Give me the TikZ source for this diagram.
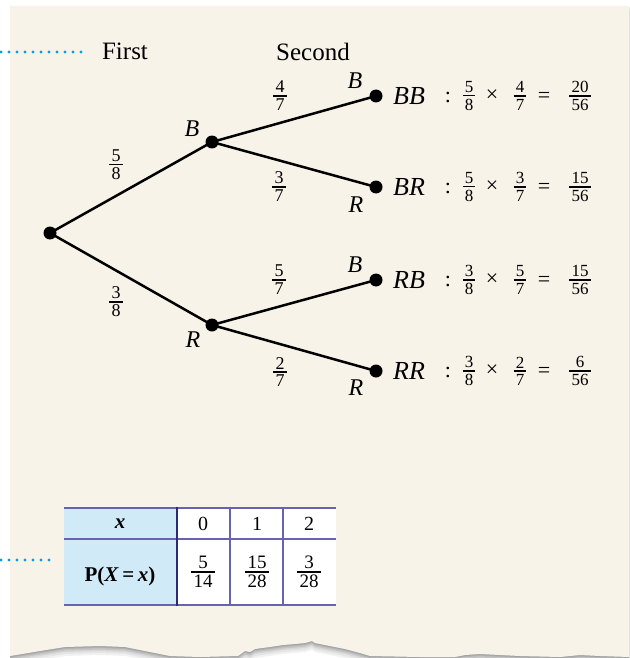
\documentclass[tikz,border=0pt]{standalone}
\usepackage{fontspec}
\setmainfont{Liberation Serif}
\definecolor{cream}{RGB}{247,243,232}
\definecolor{dotblue}{RGB}{0,160,227}
\definecolor{tline}{RGB}{105,98,175}
\definecolor{tthick}{RGB}{45,42,115}
\definecolor{tblue}{RGB}{208,234,248}
\newcommand\fr[3][17]{{\fontsize{#1}{#1}\selectfont
  \setbox0=\hbox{#2}\setbox2=\hbox{#3}%
  \dimen0=\wd0 \ifdim\wd2>\dimen0 \dimen0=\wd2 \fi
  \advance\dimen0 by .25em
  \vbox{\offinterlineskip\halign{\hfil##\hfil\cr\box0\cr\noalign{\kern2pt}\vrule width\dimen0 height1.6pt depth0pt\cr\noalign{\kern2.5pt}\box2\cr}}}}
\begin{document}
\begin{tikzpicture}[x=1pt,y=-1pt,
  tdot/.style={circle,fill=black,inner sep=0pt,minimum size=13pt},
  branch/.style={line width=2.5pt},
  lbl/.style={font=\fontsize{24}{24}\selectfont\itshape,inner sep=0pt},
  head/.style={font=\fontsize{25}{25}\selectfont,inner sep=0pt},
  leaf/.style={font=\fontsize{26}{26}\selectfont\itshape,inner sep=0pt},
  txt/.style={font=\fontsize{22}{22}\selectfont,inner sep=0pt},
  pr/.style={inner sep=0pt},
  ttxt/.style={font=\fontsize{20}{20}\selectfont,inner sep=0pt},
  dotline/.style={dotblue,line width=3.4pt,line cap=round,dash pattern=on 0pt off 8pt},
]
\useasboundingbox (0,0) rectangle (629,658);
\fill[white] (0,0) rectangle (629,658);
% shadow of torn edge
\foreach \s/\c in {9/5,7/10,5/16,3.5/23,2/30,1/36}{
\fill[black!\c,yshift=-\s pt] (10,6) -- (629,6) -- (629,657) -- (600,656) -- (580,655) -- (560,657) -- (520,656) -- (500,655) -- (480,654) -- (465,655) -- (455,657) -- (420,657) -- (370,656) -- (360,653) -- (345,649) -- (330,646) -- (315,643) -- (312,641) -- (305,643) -- (295,644) -- (283,645) -- (270,647) -- (262,648) -- (255,649) -- (250,652) -- (245,651) -- (238,656) -- (200,657) -- (170,656) -- (150,652) -- (125,647) -- (100,646) -- (65,647) -- (40,651) -- (10,656) -- cycle;
}
\fill[cream] (10,6) -- (629,6) -- (629,657) -- (600,656) -- (580,655) -- (560,657) -- (520,656) -- (500,655) -- (480,654) -- (465,655) -- (455,657) -- (420,657) -- (370,656) -- (360,653) -- (345,649) -- (330,646) -- (315,643) -- (312,641) -- (305,643) -- (295,644) -- (283,645) -- (270,647) -- (262,648) -- (255,649) -- (250,652) -- (245,651) -- (238,656) -- (200,657) -- (170,656) -- (150,652) -- (125,647) -- (100,646) -- (65,647) -- (40,651) -- (10,656) -- cycle;

% dotted leaders
\coordinate (d1s) at (1,52); \coordinate (d1e) at (85,52);
\coordinate (d2s) at (1,560); \coordinate (d2e) at (51,560);
\draw[dotline] (d1s) -- (d1e);
\draw[dotline] (d2s) -- (d2e);

% headings
\node[head] (first) at (125,51.5) {First};
\node[head] (second) at (313,51.5) {Second};

% tree
\node[tdot] (root) at (50,233) {};
\node[tdot] (b1) at (212,142) {};
\node[tdot] (r1) at (212,325) {};
\node[tdot] (bb) at (376,96) {};
\node[tdot] (br) at (376,187) {};
\node[tdot] (rb) at (376,280) {};
\node[tdot] (rr) at (376,371) {};
\draw[branch] (root.center) -- (b1.center);
\draw[branch] (root.center) -- (r1.center);
\draw[branch] (b1.center) -- (bb.center);
\draw[branch] (b1.center) -- (br.center);
\draw[branch] (r1.center) -- (rb.center);
\draw[branch] (r1.center) -- (rr.center);

\node[lbl] (lb1) at (192,129) {B};
\node[lbl] (lr1) at (193,340) {R};
\node[lbl] (lbb) at (355,81) {B};
\node[lbl] (lbr) at (356,205) {R};
\node[lbl] (lrb) at (355,265) {B};
\node[lbl] (lrr) at (356,388) {R};

\node[pr] (p58) at (116,165) {\fr[18]{5}{8}};
\node[pr] (p38) at (116,302) {\fr[18]{3}{8}};
\node[pr] (p47) at (280,96) {\fr[18]{4}{7}};
\node[pr] (p37) at (279,187) {\fr[18]{3}{7}};
\node[pr] (p57) at (279,280) {\fr[18]{5}{7}};
\node[pr] (p27) at (280,372) {\fr[18]{2}{7}};

% outcome rows
\node[leaf] (tbb) at (409,96) {BB};
\node[txt] (cbb) at (448,97) {:};
\node[pr] (f1bb) at (469,96) {\fr{5}{8}};
\node[txt] (xbb) at (492,96) {×};
\node[pr] (f2bb) at (520,96) {\fr{4}{7}};
\node[txt] (ebb) at (544,97) {=};
\node[pr] (rbb) at (580,96) {\fr{20}{56}};

\node[leaf] (tbr) at (409,187) {BR};
\node[txt] (cbr) at (448,188) {:};
\node[pr] (f1br) at (469,187) {\fr{5}{8}};
\node[txt] (xbr) at (492,187) {×};
\node[pr] (f2br) at (520,187) {\fr{3}{7}};
\node[txt] (ebr) at (544,188) {=};
\node[pr] (rbr) at (580,187) {\fr{15}{56}};

\node[leaf] (trb) at (409,280) {RB};
\node[txt] (crb) at (448,281) {:};
\node[pr] (f1rb) at (469,280) {\fr{3}{8}};
\node[txt] (xrb) at (492,280) {×};
\node[pr] (f2rb) at (520,280) {\fr{5}{7}};
\node[txt] (erb) at (544,281) {=};
\node[pr] (rrb) at (580,280) {\fr{15}{56}};

\node[leaf] (trr) at (409,371) {RR};
\node[txt] (crr) at (448,372) {:};
\node[pr] (f1rr) at (469,371) {\fr{3}{8}};
\node[txt] (xrr) at (492,371) {×};
\node[pr] (f2rr) at (520,371) {\fr{2}{7}};
\node[txt] (err) at (544,372) {=};
\node[pr] (rrr) at (580,371) {\fr{6}{56}};

% table
\fill[tblue] (64,508) rectangle (177,605);
\fill[white] (177,508) rectangle (336,605);
\draw[tline,line width=1.6pt] (230,508) -- (230,605);
\draw[tline,line width=1.6pt] (283,508) -- (283,605);
\draw[tline,line width=2pt] (64,508) -- (336,508);
\draw[tline,line width=2pt] (64,539) -- (336,539);
\draw[tline,line width=2pt] (64,605) -- (336,605);
\draw[tthick,line width=2.5pt] (177,507) -- (177,606);

\node[ttxt,font=\fontsize{21}{21}\selectfont\bfseries\itshape] (tx) at (120,524) {x};
\node[ttxt,font=\fontsize{21}{21}\selectfont\bfseries] (tp) at (120,576) {P(\textit{X}\,=\,\textit{x})};
\node[ttxt] (t0) at (203,524) {0};
\node[ttxt] (t1) at (257,524) {1};
\node[ttxt] (t2) at (309,524) {2};
\node[pr] (q0) at (203,572) {\fr[19]{5}{14}};
\node[pr] (q1) at (257,572) {\fr[19]{15}{28}};
\node[pr] (q2) at (309,572) {\fr[19]{3}{28}};
\end{tikzpicture}
\end{document}
